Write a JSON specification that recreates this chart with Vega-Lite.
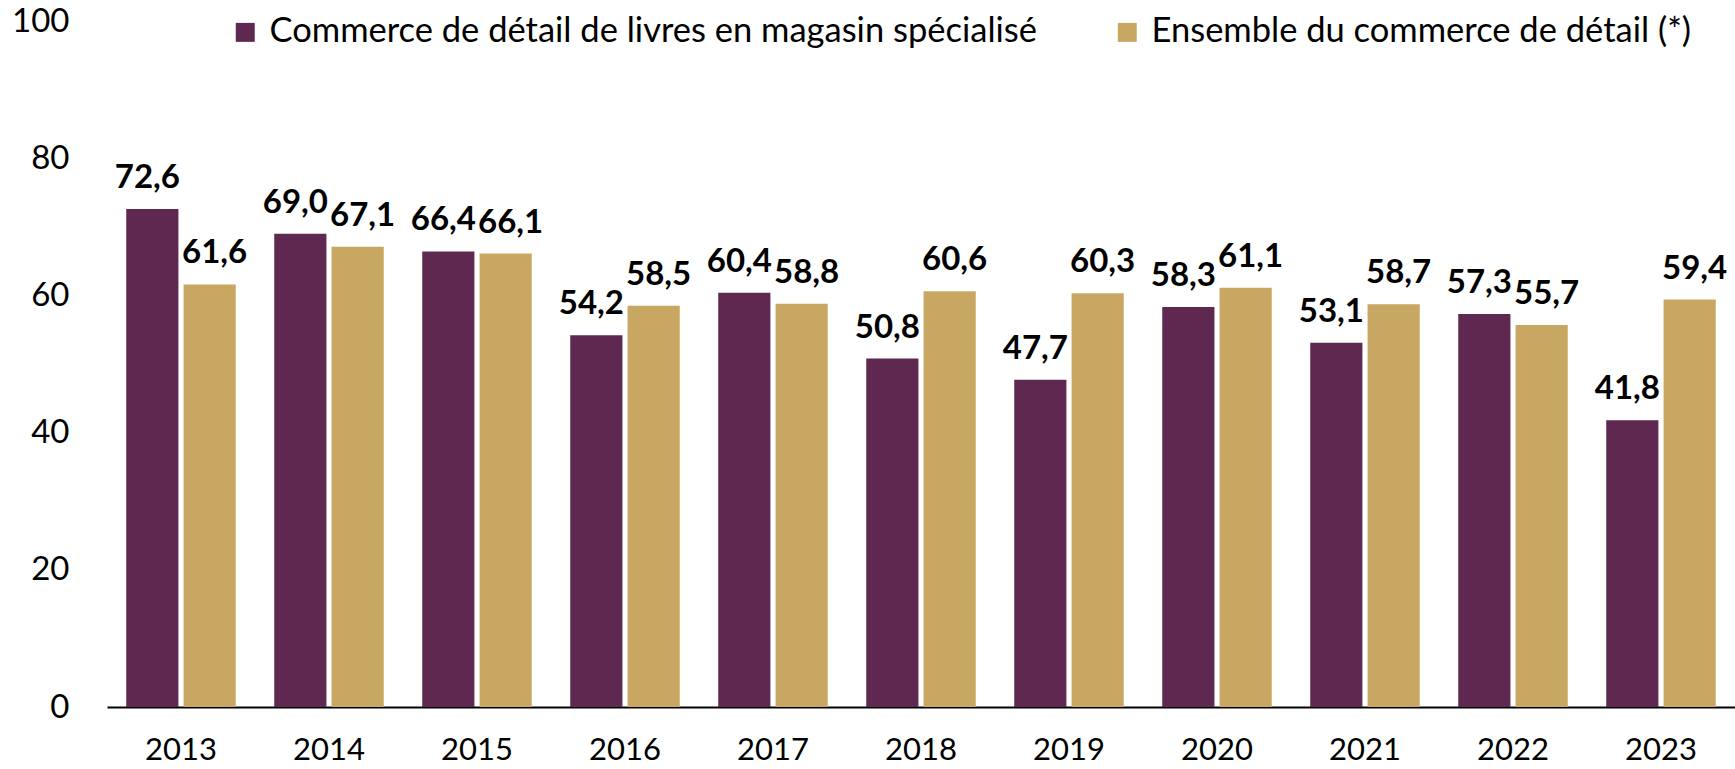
{
  "$schema": "https://vega.github.io/schema/vega-lite/v6.json",
  "width": 1628,
  "height": 686,
  "autosize": {"type": "none"},
  "padding": {"left": 107, "top": 21, "right": 0, "bottom": 62},
  "background": "white",
  "config": {"view": {"stroke": null}, "font": "Lato"},
  "data": {"values": [
    {"year": "2013", "serie": "Commerce de détail de livres en magasin spécialisé", "value": 72.6, "label": "72,6"},
    {"year": "2013", "serie": "Ensemble du commerce de détail (*)", "value": 61.6, "label": "61,6"},
    {"year": "2014", "serie": "Commerce de détail de livres en magasin spécialisé", "value": 69.0, "label": "69,0"},
    {"year": "2014", "serie": "Ensemble du commerce de détail (*)", "value": 67.1, "label": "67,1"},
    {"year": "2015", "serie": "Commerce de détail de livres en magasin spécialisé", "value": 66.4, "label": "66,4"},
    {"year": "2015", "serie": "Ensemble du commerce de détail (*)", "value": 66.1, "label": "66,1"},
    {"year": "2016", "serie": "Commerce de détail de livres en magasin spécialisé", "value": 54.2, "label": "54,2"},
    {"year": "2016", "serie": "Ensemble du commerce de détail (*)", "value": 58.5, "label": "58,5"},
    {"year": "2017", "serie": "Commerce de détail de livres en magasin spécialisé", "value": 60.4, "label": "60,4"},
    {"year": "2017", "serie": "Ensemble du commerce de détail (*)", "value": 58.8, "label": "58,8"},
    {"year": "2018", "serie": "Commerce de détail de livres en magasin spécialisé", "value": 50.8, "label": "50,8"},
    {"year": "2018", "serie": "Ensemble du commerce de détail (*)", "value": 60.6, "label": "60,6"},
    {"year": "2019", "serie": "Commerce de détail de livres en magasin spécialisé", "value": 47.7, "label": "47,7"},
    {"year": "2019", "serie": "Ensemble du commerce de détail (*)", "value": 60.3, "label": "60,3"},
    {"year": "2020", "serie": "Commerce de détail de livres en magasin spécialisé", "value": 58.3, "label": "58,3"},
    {"year": "2020", "serie": "Ensemble du commerce de détail (*)", "value": 61.1, "label": "61,1"},
    {"year": "2021", "serie": "Commerce de détail de livres en magasin spécialisé", "value": 53.1, "label": "53,1"},
    {"year": "2021", "serie": "Ensemble du commerce de détail (*)", "value": 58.7, "label": "58,7"},
    {"year": "2022", "serie": "Commerce de détail de livres en magasin spécialisé", "value": 57.3, "label": "57,3"},
    {"year": "2022", "serie": "Ensemble du commerce de détail (*)", "value": 55.7, "label": "55,7"},
    {"year": "2023", "serie": "Commerce de détail de livres en magasin spécialisé", "value": 41.8, "label": "41,8"},
    {"year": "2023", "serie": "Ensemble du commerce de détail (*)", "value": 59.4, "label": "59,4"}
  ]},
  "encoding": {
    "x": {
      "field": "year", "type": "nominal", "title": null,
      "scale": {"paddingInner": 0.26, "paddingOuter": 0.13},
      "axis": {"labelAngle": 0, "labelFontSize": 31, "labelColor": "black", "labelPadding": 28, "domainColor": "black", "domainWidth": 2, "ticks": false, "labelFont": "Lato"}
    },
    "xOffset": {"field": "serie", "type": "nominal", "scale": {"domain": ["Commerce de détail de livres en magasin spécialisé", "Ensemble du commerce de détail (*)"], "paddingInner": 0.09}},
    "y": {
      "field": "value", "type": "quantitative", "title": null,
      "scale": {"domain": [0, 100]},
      "axis": {"values": [0, 20, 40, 60, 80, 100], "grid": false, "domain": false, "ticks": false, "labelFontSize": 33, "labelColor": "black", "labelPadding": 38, "labelFont": "Lato"}
    }
  },
  "layer": [
    {
      "mark": {"type": "bar"},
      "encoding": {
        "color": {
          "field": "serie", "type": "nominal",
          "scale": {"domain": ["Commerce de détail de livres en magasin spécialisé", "Ensemble du commerce de détail (*)"], "range": ["#5E2850", "#C8A762"]},
          "legend": {
            "title": null, "orient": "none", "direction": "horizontal",
            "legendX": 121, "legendY": -6,
            "symbolType": "square", "symbolSize": 360, "symbolStrokeWidth": 0, "symbolOpacity": 1,
            "labelFontSize": 34.5, "labelColor": "black", "labelFont": "Lato", "labelLimit": 1200,
            "columnPadding": 73, "labelOffset": 7
          }
        }
      }
    },
    {
      "transform": [{"filter": "datum.serie === 'Commerce de détail de livres en magasin spécialisé'"}],
      "mark": {"type": "text", "baseline": "bottom", "dy": -14, "dx": -5, "fontSize": 33, "fontWeight": "bold", "color": "black", "font": "Lato"},
      "encoding": {"text": {"field": "label", "type": "nominal"}}
    },
    {
      "transform": [{"filter": "datum.serie === 'Ensemble du commerce de détail (*)'"}],
      "mark": {"type": "text", "baseline": "bottom", "dy": -14, "dx": 5, "fontSize": 33, "fontWeight": "bold", "color": "black", "font": "Lato"},
      "encoding": {"text": {"field": "label", "type": "nominal"}}
    }
  ]
}
